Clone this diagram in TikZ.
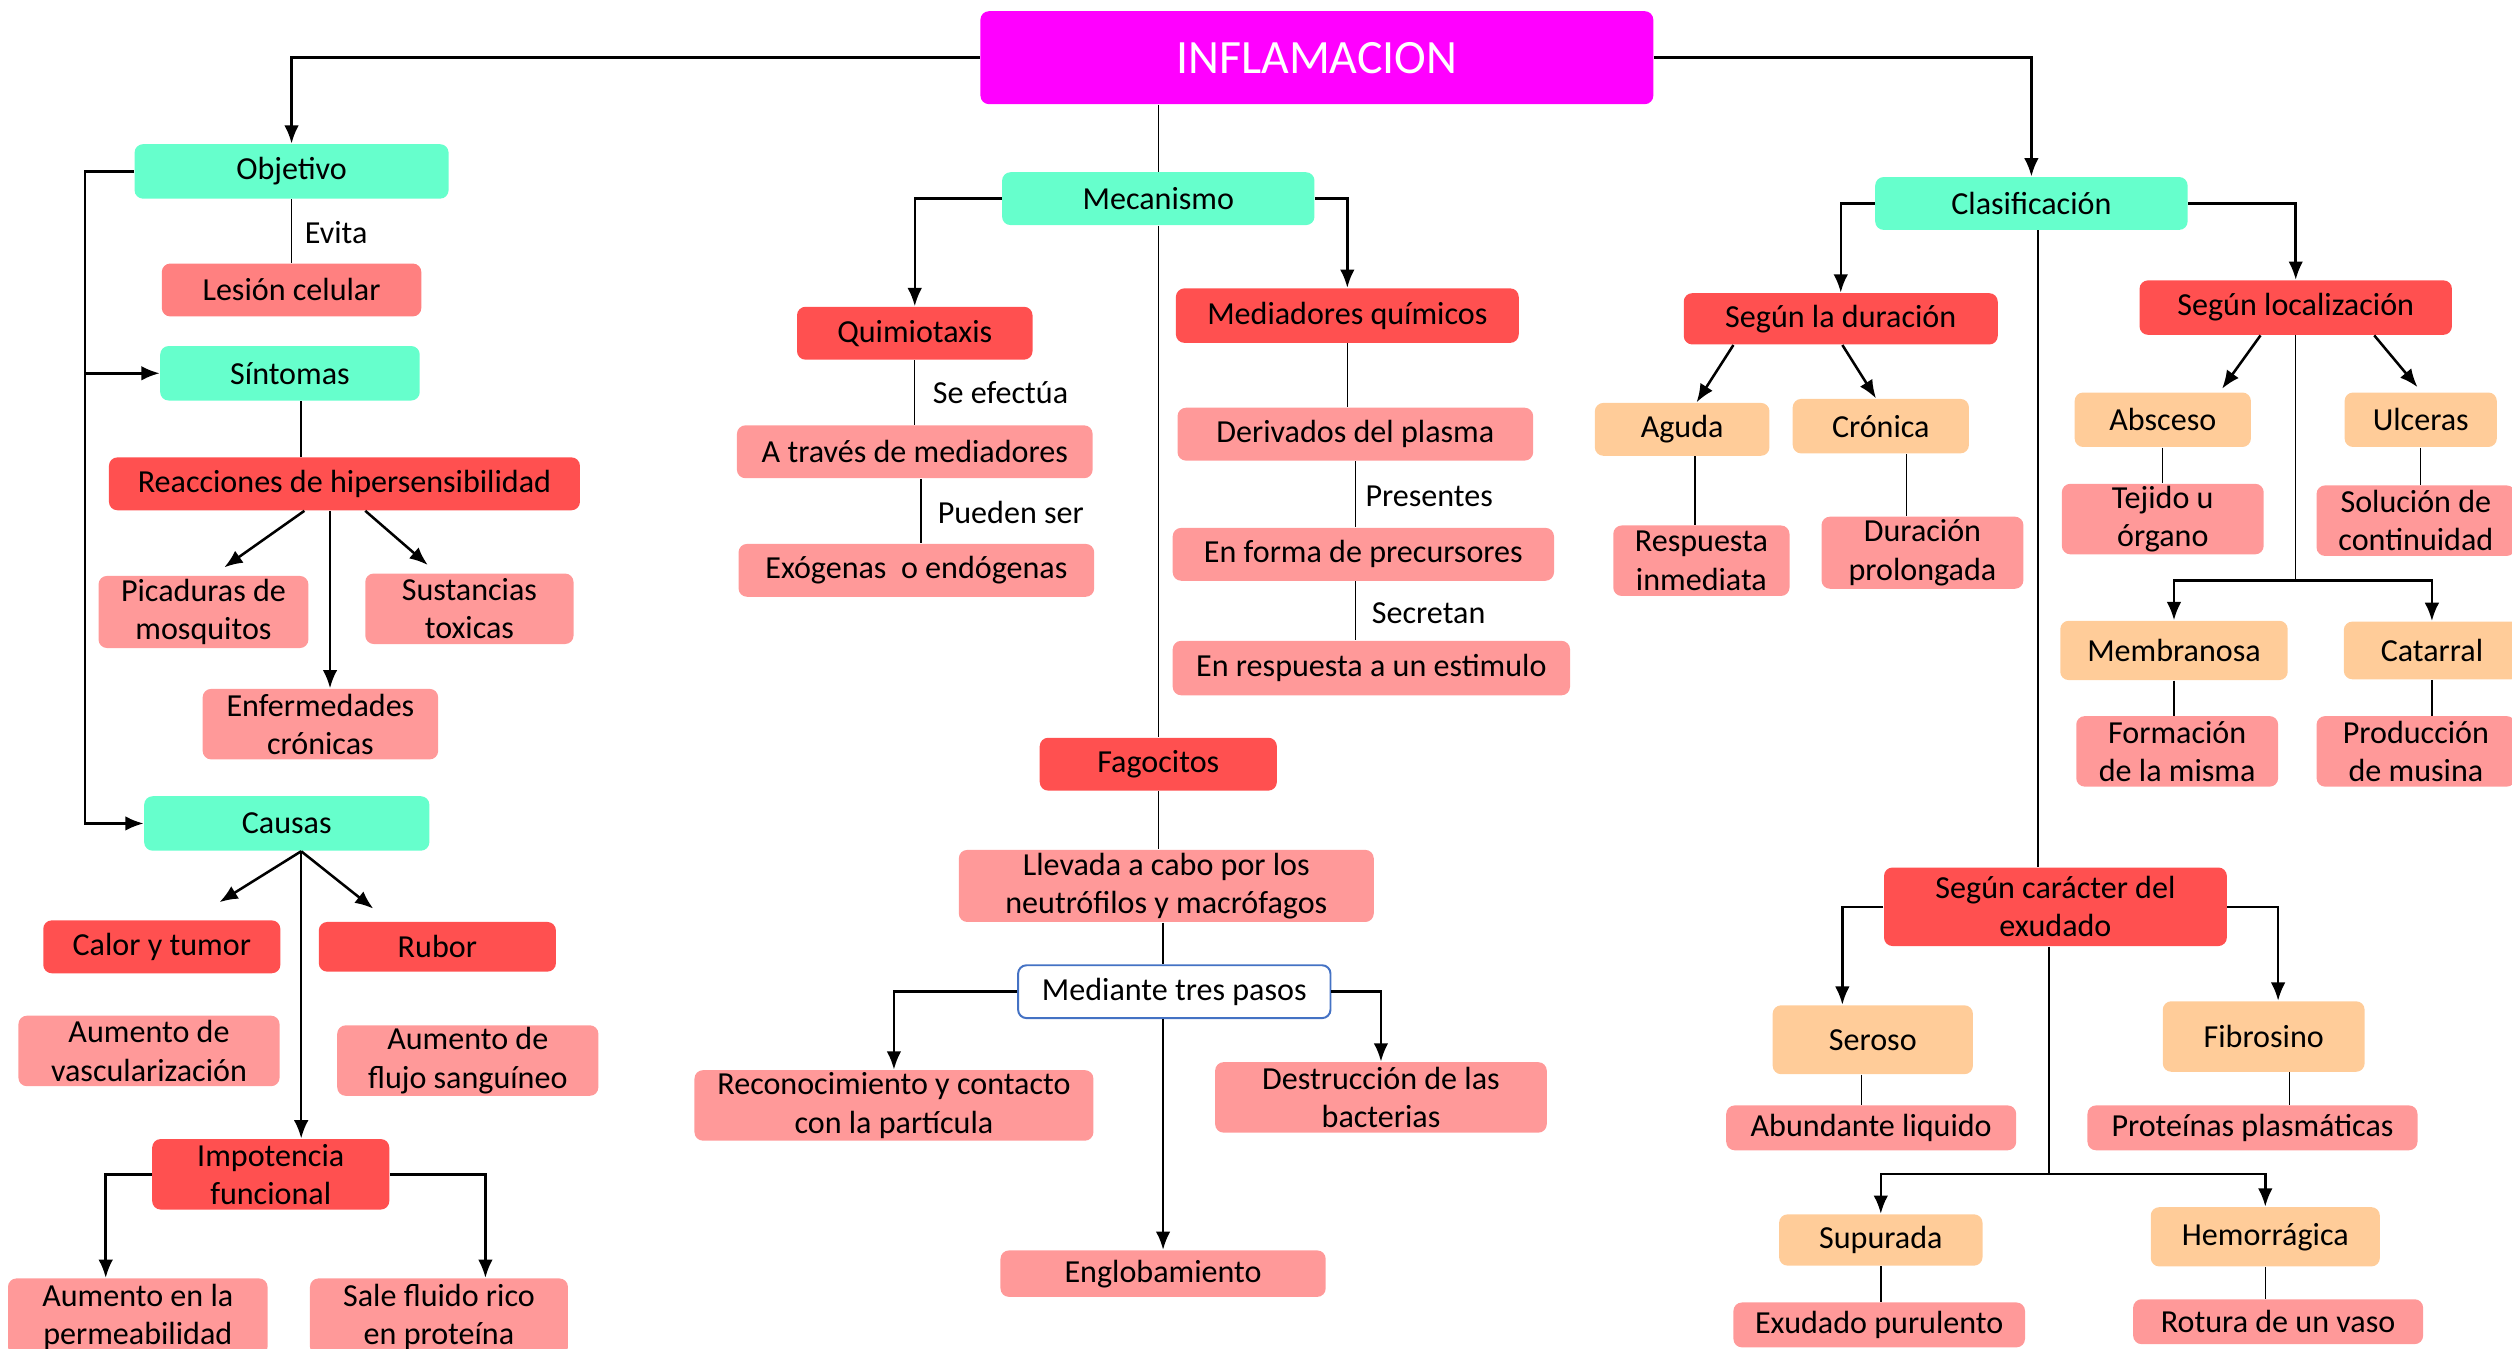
\documentclass[tikz,border=0pt]{standalone}
\usepackage{fontspec}
\setmainfont{Carlito}
\usepackage{tikz}
\usetikzlibrary{arrows.meta, calc}

\definecolor{menta}{HTML}{66FFCC}
\definecolor{rojo}{HTML}{FF5050}
\definecolor{rosa}{HTML}{FF9999}
\definecolor{salmon}{HTML}{FF8080}
\definecolor{naranja}{HTML}{FFCC99}
\definecolor{magenta}{HTML}{FF00FF}
\definecolor{azul}{HTML}{4472C4}

\tikzset{
  box/.style = {rounded corners=3pt, align=center, inner sep=0pt,
                font=\fontsize{11.4}{13.6}\selectfont},
  sz/.style 2 args = {minimum width=#1*0.02cm, minimum height=#2*0.02cm},
  menta/.style = {box, fill=menta},
  rojo/.style = {box, fill=rojo},
  rosa/.style = {box, fill=rosa},
  naranja/.style = {box, fill=naranja},
  lbl/.style = {anchor=west, inner sep=0pt, font=\fontsize{11.4}{13.6}\selectfont},
  arr/.style = {-{Latex[length=6.5pt,width=5.2pt]}, line width=0.9pt},
  lin/.style = {line width=0.5pt}
}

\begin{document}
\begin{tikzpicture}[x=0.02cm, y=-0.02cm]
        \useasboundingbox (0,0) rectangle (1568,842);

        % raiz
        \node[box, fill=magenta, sz={420}{58}, text=white,
              font=\fontsize{17}{20}\selectfont] at (822,36) (infl) {INFLAMACION};

        % rama objetivo / sintomas / causas
        \node[menta, sz={196}{34}] at (182,107) (obj) {Objetivo};
        \node[box, fill=salmon, sz={162}{33}] at (182,181) (les) {Lesión celular};
        \node[menta, sz={162}{34}] at (181,233) (sin) {Síntomas};
        \node[rojo, sz={294}{33}] at (215,302) (rea) {Reacciones de hipersensibilidad};
        \node[rosa, sz={131}{45}] at (127,382) (pic) {Picaduras de\\mosquitos};
        \node[rosa, sz={130}{44}] at (293,380) (sus) {Sustancias\\toxicas};
        \node[rosa, sz={147}{44}] at (200,452) (enf) {Enfermedades\\crónicas};
        \node[menta, sz={178}{34}] at (179,514) (cau) {Causas};
        \node[rojo, sz={148}{33}] at (101,591) (cal) {Calor y tumor};
        \node[rojo, sz={148}{31}] at (273,591) (rub) {Rubor};
        \node[rosa, sz={163}{44}] at (93,656) (vas) {Aumento de\\vascularización};
        \node[rosa, sz={163}{44}] at (292,662) (flu) {Aumento de\\flujo sanguíneo};
        \node[rojo, sz={148}{44}] at (169,733) (imp) {Impotencia\\funcional};
        \node[rosa, sz={162}{48}] at (86,822) (per) {Aumento en la\\permeabilidad};
        \node[rosa, sz={161}{48}] at (274,822) (sal) {Sale fluido rico\\en proteína};

        \node[lbl] at (190,145) (evi) {Evita};

        % rama mecanismo
        \node[menta, sz={195}{33}] at (723,124) (mec) {Mecanismo};
        \node[rojo, sz={147}{33}] at (571,208) (qui) {Quimiotaxis};
        \node[rosa, sz={222}{33}] at (571,282) (atr) {A través de mediadores};
        \node[rosa, sz={222}{33}] at (572,356) (exo) {Exógenas\ \ o endógenas};
        \node[rojo, sz={214}{34}] at (841,197) (med) {Mediadores químicos};
        \node[rosa, sz={222}{33}] at (846,271) (der) {Derivados del plasma};
        \node[rosa, sz={238}{33}] at (851,346) (pre) {En forma de precursores};
        \node[rosa, sz={248}{34}] at (856,417) (res) {En respuesta a un estimulo};
        \node[rojo, sz={148}{33}] at (723,477) (fag) {Fagocitos};
        \node[rosa, sz={259}{45}] at (728,553) (lle) {Llevada a cabo por los\\neutrófilos y macrófagos};
        \node[box, fill=white, draw=azul, line width=0.7pt, sz={195}{33}] at (733,619) (pas) {Mediante tres pasos};
        \node[rosa, sz={249}{44}] at (558,690) (rec) {Reconocimiento y contacto\\con la partícula};
        \node[rosa, sz={207}{44}] at (862,685) (des) {Destrucción de las\\bacterias};
        \node[rosa, sz={203}{29}] at (726,795) (eng) {Englobamiento};

        \node[lbl] at (582,245) (sef) {Se efectúa};
        \node[lbl] at (585,320) (pue) {Pueden ser};
        \node[lbl] at (852,310) (prs) {Presentes};
        \node[lbl] at (856,383) (sec) {Secretan};

        % rama clasificacion
        \node[menta, sz={195}{33}] at (1268,127) (cla) {Clasificación};
        \node[rojo, sz={196}{32}] at (1149,199) (dur) {Según la duración};
        \node[naranja, sz={109}{33}] at (1050,268) (agu) {Aguda};
        \node[naranja, sz={110}{34}] at (1174,266) (cro) {Crónica};
        \node[rosa, sz={110}{44}] at (1062,350) (rin) {Respuesta\\inmediata};
        \node[rosa, sz={126}{45}] at (1200,345) (dpr) {Duración\\prolongada};
        \node[rojo, sz={195}{34}] at (1433,192) (loc) {Según localización};
        \node[naranja, sz={110}{34}] at (1350,262) (abs) {Absceso};
        \node[naranja, sz={95}{34}] at (1511,262) (ulc) {Ulceras};
        \node[rosa, sz={126}{44}] at (1350,324) (tej) {Tejido u\\órgano};
        \node[rosa, sz={124}{44}] at (1508,325) (sol) {Solución de\\continuidad};
        \node[naranja, sz={142}{37}] at (1357,406) (mem) {Membranosa};
        \node[naranja, sz={110}{36}] at (1518,406) (cat) {Catarral};
        \node[rosa, sz={126}{44}] at (1359,469) (fmi) {Formación\\de la misma};
        \node[rosa, sz={124}{44}] at (1508,469) (pro) {Producción\\de musina};
        \node[rojo, sz={214}{49}] at (1283,566) (car) {Según carácter del\\exudado};
        \node[naranja, sz={125}{43}] at (1169,649) (ser) {Seroso};
        \node[naranja, sz={126}{44}] at (1413,647) (fib) {Fibrosino};
        \node[rosa, sz={181}{28}] at (1168,704) (abu) {Abundante liquido};
        \node[rosa, sz={206}{28}] at (1406,704) (ptp) {Proteínas plasmáticas};
        \node[naranja, sz={127}{32}] at (1174,774) (sup) {Supurada};
        \node[rosa, sz={182}{28}] at (1173,827) (exu) {Exudado purulento};
        \node[naranja, sz={143}{37}] at (1414,772) (hem) {Hemorrágica};
        \node[rosa, sz={181}{28}] at (1422,825) (rot) {Rotura de un vaso};

        % conectores
        \draw[arr] (infl.west) -| (obj.north);
        \draw[arr] (infl.east) -| (cla.north);
        \draw[lin] (infl.south -| mec.north) -- (mec.north);

        \coordinate (lb) at (53,107);
        \draw[arr] (obj.west) -- (lb) |- (cau.west);
        \draw[arr] (lb) |- (sin.west);
        \draw[lin] (obj.south) -- (obj.south |- les.north);
        \draw[lin] ($(sin.south)+(7,0)$) coordinate (s1) -- (s1 |- rea.north);
        \draw[arr] ($(rea.south)+(-25,0)$) -- ($(pic.north)+(13,-5)$);
        \draw[arr] ($(rea.south)+(-9,0)$) coordinate (r1) -- (r1 |- enf.north);
        \draw[arr] ($(rea.south)+(13,0)$) -- ($(sus.north)+(-26,-5)$);
        \coordinate (cj) at ($(cau.south)+(9,0)$);
        \draw[arr] (cj) -- ($(cal.north)+(36,-11)$);
        \draw[arr] (cj) -- ($(rub.north)+(-40,-8)$);
        \draw[arr] (cj) -- (cj |- imp.north);
        \draw[arr] (imp.west) -| ($(per.north)+(-20,0)$);
        \draw[arr] (imp.east) -| ($(sal.north)+(29,0)$);

        \draw[arr] (mec.west) -| (qui.north);
        \draw[arr] (mec.east) -| (med.north);
        \draw[lin] (mec.south) -- (mec.south |- fag.north);
        \draw[lin] (qui.south) -- (qui.south |- atr.north);
        \draw[lin] ($(atr.south)+(4,0)$) coordinate (a2) -- (a2 |- exo.north);
        \draw[lin] (med.south) -- (med.south |- der.north);
        \draw[lin] (der.south) -- (der.south |- pre.north);
        \draw[lin] (der.south |- pre.south) -- (der.south |- res.north);
        \draw[lin] (fag.south) -- (fag.south |- lle.north);
        \draw[lin] (eng.north |- lle.south) -- (eng.north |- pas.north);
        \draw[arr] (eng.north |- pas.south) -- (eng.north);
        \draw[arr] (pas.west) -| (rec.north);
        \draw[arr] (pas.east) -| (des.north);

        \draw[arr] (cla.west) -| (dur.north);
        \draw[arr] (cla.east) -| (loc.north);
        \draw[lin] ($(cla.south)+(4,0)$) coordinate (k1) -- (k1 |- car.north);
        \draw[arr] ($(dur.south)+(-67,0)$) -- ($(agu.north)+(9,0)$);
        \draw[arr] ($(dur.south)+(1,0)$) -- ($(cro.north)+(-3,0)$);
        \draw[lin] ($(agu.south)+(8,0)$) coordinate (g1) -- (g1 |- rin.north);
        \draw[lin] ($(cro.south)+(16,0)$) coordinate (c1) -- (c1 |- dpr.north);
        \draw[arr] ($(loc.south)+(-22,0)$) -- ($(abs.north)+(37,-2)$);
        \draw[arr] ($(loc.south)+(49,0)$) -- ($(ulc.north)+(-2,-3)$);
        \coordinate (lj) at ($(loc.south)+(0,153)$);
        \draw[lin] (loc.south) -- (lj);
        \draw[arr] (lj) -| (mem.north);
        \draw[arr] (lj) -| (cat.north);
        \draw[lin] (abs.south) -- (abs.south |- tej.north);
        \draw[lin] (ulc.south) -- (ulc.south |- sol.north);
        \draw[lin] (mem.south) -- (mem.south |- fmi.north);
        \draw[lin] (cat.south) -- (cat.south |- pro.north);

        \draw[arr] (car.west) -| ($(ser.north)+(-19,0)$);
        \draw[arr] (car.east) -| ($(fib.north)+(9,0)$);
        \coordinate (cj2) at ($(car.south)+(-4,142)$);
        \draw[lin] (car.south -| cj2) -- (cj2);
        \draw[arr] (cj2) -| (sup.north);
        \draw[arr] (cj2) -| (hem.north);
        \draw[lin] ($(ser.south)+(-7,0)$) coordinate (e1) -- (e1 |- abu.north);
        \draw[lin] ($(fib.south)+(16,0)$) coordinate (f1) -- (f1 |- ptp.north);
        \draw[lin] (sup.south) -- (sup.south |- exu.north);
        \draw[lin] (hem.south) -- (hem.south |- rot.north);
\end{tikzpicture}
\end{document}
